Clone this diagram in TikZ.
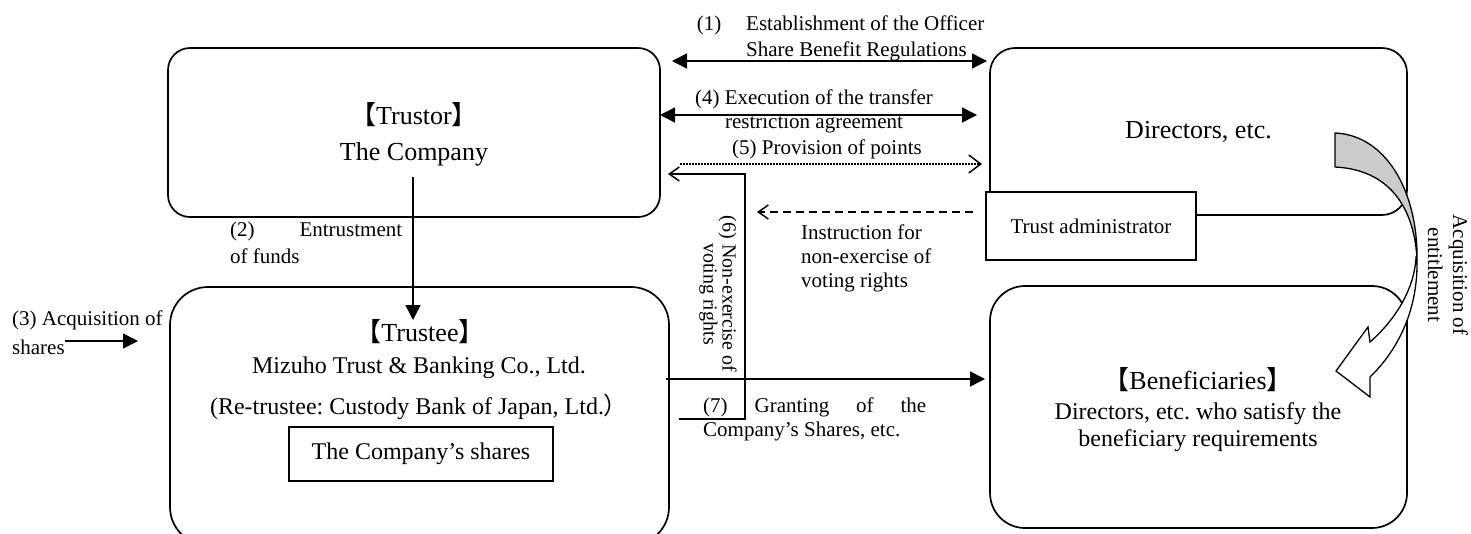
\documentclass[tikz,border=0pt]{standalone}
\usepackage{fontspec}
\setmainfont{Liberation Serif}
\newfontfamily\cjk{Noto Sans CJK JP}
\usetikzlibrary{arrows.meta}
\newcommand{\lb}{{\cjk 【}}
\newcommand{\rb}{{\cjk 】}}
\frenchspacing
\begin{document}
\begin{tikzpicture}[x=1pt,y=-1pt,
  boxline/.style={draw, line width=1.7pt, inner sep=0pt},
  rbox/.style={boxline, rounded corners=#1},
  lbl/.style={inner sep=0pt, font=\fontsize{21}{24}\selectfont},
  big/.style={inner sep=0pt, font=\fontsize{26}{30}\selectfont},
  mid/.style={inner sep=0pt, font=\fontsize{24}{27}\selectfont},
  conn/.style={line width=1.5pt},
  fhead/.style={-{Triangle[length=15pt,width=15pt]}},
  dhead/.style={{Triangle[length=15pt,width=15pt]}-{Triangle[length=15pt,width=15pt]}},
  ohead/.style={-{Straight Barb[length=10pt,width=14pt,line width=1.5pt]}},
  bighead/.style={-{Straight Barb[length=12pt,width=18pt,line width=1.5pt]}}
]
\useasboundingbox (0,0) rectangle (1471,533);

% boxes
\node[rbox=22pt, minimum width=492pt, minimum height=169pt] (trustor) at (414,132.5) {};
\node[rbox=25pt, minimum width=417pt, minimum height=167pt, font=\fontsize{26}{30}\selectfont] (directors) at (1198.5,131.5) {Directors, etc.};
\node[rbox=38pt, minimum width=499pt, minimum height=258pt] (trustee) at (419.5,416) {};
\node[rbox=35pt, minimum width=417pt, minimum height=242pt] (benef) at (1198.5,407) {};
\node[boxline, fill=white, minimum width=210pt, minimum height=68pt, font=\fontsize{21}{24}\selectfont] (admin) at (1091,226) {Trust administrator};
\node[boxline, minimum width=264pt, minimum height=54pt, font=\fontsize{24}{27}\selectfont] (shares) at (421,454) {The Company’s shares};

% box texts
\node[big] (trustorT) at (414,115) {\lb Trustor\rb};
\node[big] (trustorC) at (414,154) {The Company};
\node[big] (trusteeT) at (420,332) {\lb Trustee\rb};
\node[mid] (mizuho) at (419,368) {Mizuho Trust \& Banking Co., Ltd.};
\node[mid] (retrust) at (419,407) {(Re-trustee: Custody Bank of Japan, Ltd.{\cjk ）}};
\node[big] (benefT) at (1198,380) {\lb Beneficiaries\rb};
\node[mid, align=center, font=\fontsize{24}{26.5}\selectfont] (benefD) at (1198,427) {Directors, etc. who satisfy the\\beneficiary requirements};

% labels
\node[lbl] (l1n) at (709,25) {(1)};
\node[lbl, anchor=west, align=left, font=\fontsize{21}{26}\selectfont] (l1) at (746,38) {Establishment of the Officer\\Share Benefit Regulations};
\node[lbl, align=center] (l4) at (814,111) {(4) Execution of the transfer\\restriction agreement};
\node[lbl] (l5) at (827,149) {(5) Provision of points};
\node[lbl, anchor=west, align=left, font=\fontsize{21}{27}\selectfont] (l2) at (230,243) {\makebox[172pt][s]{(2) Entrustment}\\of funds};
\node[lbl, anchor=west, align=left, font=\fontsize{21}{29}\selectfont] (l3) at (12,333) {(3) Acquisition of\\shares};
\node[lbl, rotate=-90, align=center, font=\fontsize{20}{19}\selectfont] (l6) at (718,294) {(6) Non-exercise of\\voting rights};
\node[lbl, anchor=west, align=left] (linst) at (801,258) {Instruction for\\non-exercise of\\voting rights};
\node[lbl, anchor=west, align=left] (l7) at (703,419) {\makebox[223pt][s]{(7) Granting of the}\\Company’s Shares, etc.};
\node[lbl, rotate=-90, align=center, font=\fontsize{21}{25}\selectfont] (lacq) at (1448,275) {Acquisition of\\entitlement};

% connector end points
\coordinate (a1s) at (672,61);   \coordinate (a1e) at (987,61);
\coordinate (a4s) at (660,115);  \coordinate (a4e) at (977,115);
\coordinate (a5s) at (680,164);  \coordinate (a5e) at (982,164);
\coordinate (a6s) at (679,419);  \coordinate (a6c1) at (745,419);
\coordinate (a6c2) at (745,174); \coordinate (a6e) at (668,174);
\coordinate (ais) at (973,212);  \coordinate (aie) at (757,212);
\coordinate (a7s) at (666,379);  \coordinate (a7e) at (985,379);
\coordinate (a2s) at (413,177);  \coordinate (a2e) at (413,320);
\coordinate (a3s) at (65,341);   \coordinate (a3e) at (138,341);

% connectors
\draw[conn, dhead] (a1s) -- (a1e);
\draw[conn, dhead] (a4s) -- (a4e);
\draw[conn, bighead, dash pattern=on 1.5pt off 1.5pt] (a5s) -- (a5e);
\draw[conn, ohead] (a6s) -- (a6c1) -- (a6c2) -- (a6e);
\draw[conn, ohead, dash pattern=on 8pt off 5pt] (ais) -- (aie);
\draw[conn, fhead] (a7s) -- (a7e);
\draw[conn, fhead] (a2s) -- (a2e);
\draw[conn, fhead] (a3s) -- (a3e);

% curved arrow (acquisition of entitlement)
\filldraw[fill=black!20, line width=1.3pt, line join=round]
  (1335,133) .. controls (1385,135) and (1418,190) .. (1417,260)
  .. controls (1415,215) and (1395,170) .. (1335,167) -- cycle;
\filldraw[fill=white, line width=1.3pt, line join=miter]
  (1417,260) .. controls (1418,310) and (1398,350) .. (1370,377)
  -- (1370,397) -- (1336,371) -- (1368,327) -- (1370,342)
  .. controls (1395,320) and (1414,290) .. (1416,258) -- cycle;
\end{tikzpicture}
\end{document}
